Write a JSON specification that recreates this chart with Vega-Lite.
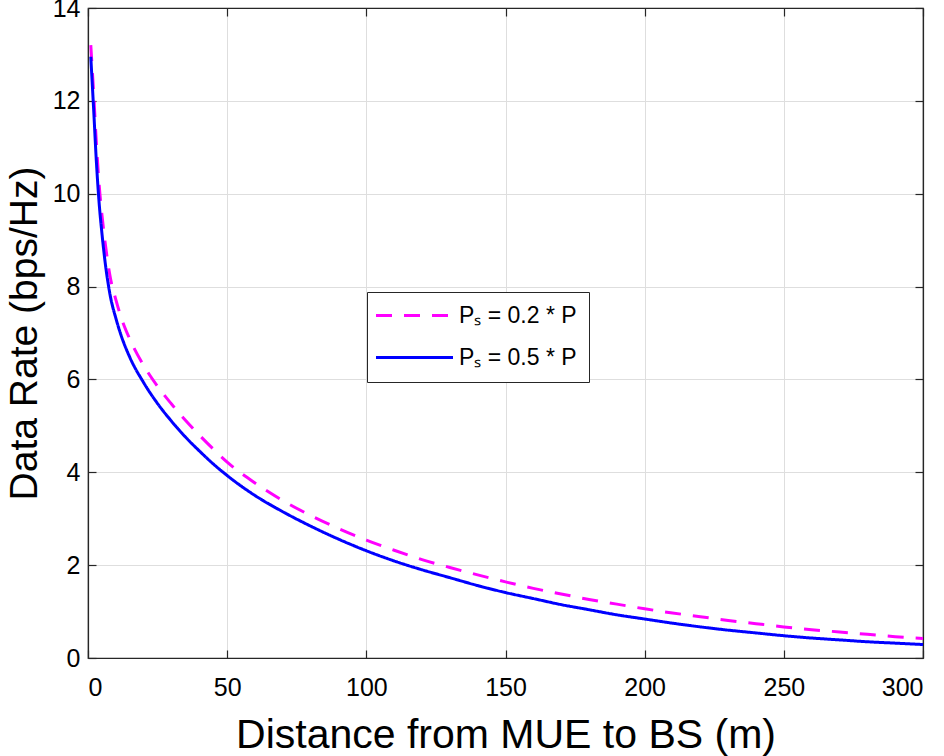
{
  "$schema": "https://vega.github.io/schema/vega-lite/v6.json",
  "width": 835,
  "height": 650,
  "autosize": {"type": "none"},
  "padding": {"left": 88, "top": 8, "right": 21, "bottom": 98},
  "background": "white",
  "data": {
    "values": [
      {"d": 1, "r": 13.2, "s": "Pₛ = 0.2 * P"},
      {"d": 1.5, "r": 12.7, "s": "Pₛ = 0.2 * P"},
      {"d": 2, "r": 12.2, "s": "Pₛ = 0.2 * P"},
      {"d": 3, "r": 11.1, "s": "Pₛ = 0.2 * P"},
      {"d": 4, "r": 10.2, "s": "Pₛ = 0.2 * P"},
      {"d": 5, "r": 9.55, "s": "Pₛ = 0.2 * P"},
      {"d": 6, "r": 9.02, "s": "Pₛ = 0.2 * P"},
      {"d": 8, "r": 8.2, "s": "Pₛ = 0.2 * P"},
      {"d": 10, "r": 7.72, "s": "Pₛ = 0.2 * P"},
      {"d": 12, "r": 7.32, "s": "Pₛ = 0.2 * P"},
      {"d": 15, "r": 6.87, "s": "Pₛ = 0.2 * P"},
      {"d": 20, "r": 6.3, "s": "Pₛ = 0.2 * P"},
      {"d": 25, "r": 5.85, "s": "Pₛ = 0.2 * P"},
      {"d": 30, "r": 5.47, "s": "Pₛ = 0.2 * P"},
      {"d": 35, "r": 5.12, "s": "Pₛ = 0.2 * P"},
      {"d": 40, "r": 4.8, "s": "Pₛ = 0.2 * P"},
      {"d": 45, "r": 4.5, "s": "Pₛ = 0.2 * P"},
      {"d": 50, "r": 4.22, "s": "Pₛ = 0.2 * P"},
      {"d": 60, "r": 3.77, "s": "Pₛ = 0.2 * P"},
      {"d": 70, "r": 3.39, "s": "Pₛ = 0.2 * P"},
      {"d": 80, "r": 3.07, "s": "Pₛ = 0.2 * P"},
      {"d": 90, "r": 2.79, "s": "Pₛ = 0.2 * P"},
      {"d": 100, "r": 2.54, "s": "Pₛ = 0.2 * P"},
      {"d": 110, "r": 2.32, "s": "Pₛ = 0.2 * P"},
      {"d": 120, "r": 2.12, "s": "Pₛ = 0.2 * P"},
      {"d": 130, "r": 1.95, "s": "Pₛ = 0.2 * P"},
      {"d": 140, "r": 1.79, "s": "Pₛ = 0.2 * P"},
      {"d": 150, "r": 1.64, "s": "Pₛ = 0.2 * P"},
      {"d": 160, "r": 1.5, "s": "Pₛ = 0.2 * P"},
      {"d": 170, "r": 1.38, "s": "Pₛ = 0.2 * P"},
      {"d": 180, "r": 1.26, "s": "Pₛ = 0.2 * P"},
      {"d": 190, "r": 1.16, "s": "Pₛ = 0.2 * P"},
      {"d": 200, "r": 1.06, "s": "Pₛ = 0.2 * P"},
      {"d": 210, "r": 0.97, "s": "Pₛ = 0.2 * P"},
      {"d": 220, "r": 0.89, "s": "Pₛ = 0.2 * P"},
      {"d": 230, "r": 0.81, "s": "Pₛ = 0.2 * P"},
      {"d": 240, "r": 0.74, "s": "Pₛ = 0.2 * P"},
      {"d": 250, "r": 0.67, "s": "Pₛ = 0.2 * P"},
      {"d": 260, "r": 0.61, "s": "Pₛ = 0.2 * P"},
      {"d": 270, "r": 0.56, "s": "Pₛ = 0.2 * P"},
      {"d": 280, "r": 0.51, "s": "Pₛ = 0.2 * P"},
      {"d": 290, "r": 0.46, "s": "Pₛ = 0.2 * P"},
      {"d": 300, "r": 0.42, "s": "Pₛ = 0.2 * P"},
      {"d": 1, "r": 12.95, "s": "Pₛ = 0.5 * P"},
      {"d": 1.5, "r": 12.4, "s": "Pₛ = 0.5 * P"},
      {"d": 2, "r": 11.85, "s": "Pₛ = 0.5 * P"},
      {"d": 3, "r": 10.7, "s": "Pₛ = 0.5 * P"},
      {"d": 4, "r": 9.8, "s": "Pₛ = 0.5 * P"},
      {"d": 5, "r": 9.15, "s": "Pₛ = 0.5 * P"},
      {"d": 6, "r": 8.6, "s": "Pₛ = 0.5 * P"},
      {"d": 8, "r": 7.8, "s": "Pₛ = 0.5 * P"},
      {"d": 10, "r": 7.32, "s": "Pₛ = 0.5 * P"},
      {"d": 12, "r": 6.93, "s": "Pₛ = 0.5 * P"},
      {"d": 15, "r": 6.48, "s": "Pₛ = 0.5 * P"},
      {"d": 20, "r": 5.93, "s": "Pₛ = 0.5 * P"},
      {"d": 25, "r": 5.48, "s": "Pₛ = 0.5 * P"},
      {"d": 30, "r": 5.1, "s": "Pₛ = 0.5 * P"},
      {"d": 35, "r": 4.76, "s": "Pₛ = 0.5 * P"},
      {"d": 40, "r": 4.46, "s": "Pₛ = 0.5 * P"},
      {"d": 45, "r": 4.18, "s": "Pₛ = 0.5 * P"},
      {"d": 50, "r": 3.93, "s": "Pₛ = 0.5 * P"},
      {"d": 60, "r": 3.5, "s": "Pₛ = 0.5 * P"},
      {"d": 70, "r": 3.15, "s": "Pₛ = 0.5 * P"},
      {"d": 80, "r": 2.84, "s": "Pₛ = 0.5 * P"},
      {"d": 90, "r": 2.56, "s": "Pₛ = 0.5 * P"},
      {"d": 100, "r": 2.31, "s": "Pₛ = 0.5 * P"},
      {"d": 110, "r": 2.09, "s": "Pₛ = 0.5 * P"},
      {"d": 120, "r": 1.9, "s": "Pₛ = 0.5 * P"},
      {"d": 130, "r": 1.73, "s": "Pₛ = 0.5 * P"},
      {"d": 140, "r": 1.56, "s": "Pₛ = 0.5 * P"},
      {"d": 150, "r": 1.41, "s": "Pₛ = 0.5 * P"},
      {"d": 160, "r": 1.28, "s": "Pₛ = 0.5 * P"},
      {"d": 170, "r": 1.15, "s": "Pₛ = 0.5 * P"},
      {"d": 180, "r": 1.04, "s": "Pₛ = 0.5 * P"},
      {"d": 190, "r": 0.93, "s": "Pₛ = 0.5 * P"},
      {"d": 200, "r": 0.84, "s": "Pₛ = 0.5 * P"},
      {"d": 210, "r": 0.75, "s": "Pₛ = 0.5 * P"},
      {"d": 220, "r": 0.67, "s": "Pₛ = 0.5 * P"},
      {"d": 230, "r": 0.6, "s": "Pₛ = 0.5 * P"},
      {"d": 240, "r": 0.54, "s": "Pₛ = 0.5 * P"},
      {"d": 250, "r": 0.48, "s": "Pₛ = 0.5 * P"},
      {"d": 260, "r": 0.43, "s": "Pₛ = 0.5 * P"},
      {"d": 270, "r": 0.39, "s": "Pₛ = 0.5 * P"},
      {"d": 280, "r": 0.35, "s": "Pₛ = 0.5 * P"},
      {"d": 290, "r": 0.32, "s": "Pₛ = 0.5 * P"},
      {"d": 300, "r": 0.29, "s": "Pₛ = 0.5 * P"}
    ]
  },
  "layer": [
    {
      "mark": {"type": "line", "strokeWidth": 3, "interpolate": "monotone", "clip": true},
      "encoding": {
        "x": {
          "field": "d", "type": "quantitative",
          "scale": {"domain": [0, 300], "nice": false, "zero": false},
          "axis": {
            "orient": "bottom",
            "title": "Distance from MUE to BS (m)",
            "values": [0, 50, 100, 150, 200, 250, 300],
            "labelPadding": 25,
            "titleFontSize": 41,
            "titleY": 89, "titleBaseline": "alphabetic"
          }
        },
        "y": {
          "field": "r", "type": "quantitative",
          "scale": {"domain": [0, 14], "nice": false},
          "axis": {
            "orient": "left",
            "title": "Data Rate (bps/Hz)",
            "values": [0, 2, 4, 6, 8, 10, 12, 14],
            "labelPadding": 16,
            "titleFontSize": 39,
            "titleX": -52, "titleBaseline": "alphabetic"
          }
        },
        "color": {
          "field": "s", "type": "nominal",
          "scale": {"domain": ["Pₛ = 0.2 * P", "Pₛ = 0.5 * P"], "range": ["#ff00ff", "#0000ff"]},
          "legend": {"orient": "none", "legendX": 279, "legendY": 284, "direction": "vertical"}
        },
        "strokeDash": {
          "field": "s", "type": "nominal",
          "scale": {"domain": ["Pₛ = 0.2 * P", "Pₛ = 0.5 * P"], "range": [[16, 12], [1, 0]]},
          "legend": {"orient": "none", "legendX": 279, "legendY": 284, "direction": "vertical"}
        }
      }
    },
    {
      "mark": {"type": "line", "strokeOpacity": 0},
      "encoding": {
        "x": {
          "field": "d", "type": "quantitative",
          "scale": {"domain": [0, 300], "nice": false, "zero": false},
          "axis": {"orient": "top", "labels": false, "title": null, "grid": false, "values": [0, 50, 100, 150, 200, 250, 300]}
        },
        "y": {
          "field": "r", "type": "quantitative",
          "scale": {"domain": [0, 14], "nice": false},
          "axis": {"orient": "right", "labels": false, "title": null, "grid": false, "values": [0, 2, 4, 6, 8, 10, 12, 14]}
        },
        "detail": {"field": "s", "type": "nominal"}
      }
    }
  ],
  "resolve": {"axis": {"x": "independent", "y": "independent"}},
  "config": {
    "view": {"stroke": "#262626", "strokeWidth": 1.2},
    "axis": {
      "domainColor": "#262626",
      "domainWidth": 1.2,
      "tickColor": "#262626",
      "tickSize": -8,
      "tickWidth": 1.2,
      "grid": true,
      "gridColor": "#dedede",
      "gridWidth": 1,
      "labelFont": "Liberation Sans",
      "labelFontSize": 25,
      "labelColor": "#000000",
      "titleFont": "Liberation Sans",
      "titleFontSize": 40,
      "titleFontWeight": "normal",
      "titleColor": "#000000"
    },
    "legend": {
      "title": null,
      "symbolType": "M-3.85,0H3.85",
      "symbolSize": 400,
      "symbolStrokeWidth": 3,
      "symbolOffset": 24,
      "labelOffset": 33,
      "labelFont": "Liberation Sans",
      "labelFontSize": 23,
      "labelColor": "#000000",
      "strokeColor": "#262626",
      "fillColor": "#ffffff",
      "padding": 12,
      "rowPadding": 18,
      "labelLimit": 300
    }
  }
}
